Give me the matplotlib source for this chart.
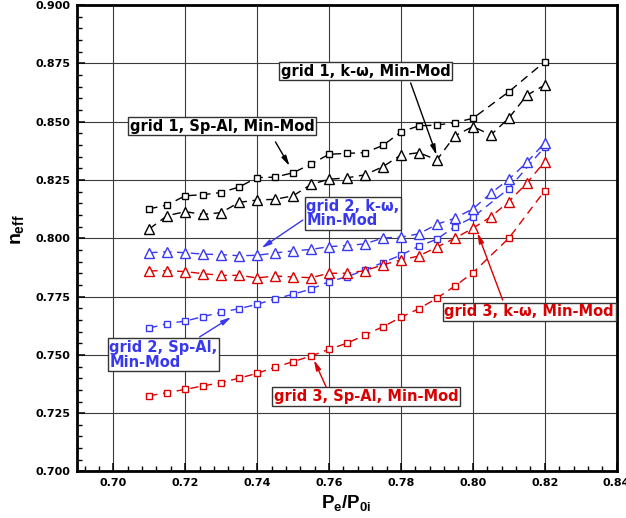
import matplotlib
matplotlib.use("Agg")
import matplotlib.pyplot as plt
from matplotlib.ticker import MultipleLocator, FormatStrFormatter

plt.rcParams['font.family'] = ['DejaVu Sans']
plt.rcParams['font.weight'] = 'bold'
plt.rcParams['mathtext.fontset'] = 'custom'
plt.rcParams['mathtext.rm'] = 'Liberation Sans:bold'
plt.rcParams['mathtext.it'] = 'Liberation Sans:bold'
plt.rcParams['mathtext.bf'] = 'Liberation Sans:bold'

# pressure ratio positions (squares skip 0.805 and 0.815)
x_sq = [0.710, 0.715, 0.720, 0.725, 0.730, 0.735, 0.740, 0.745, 0.750, 0.755,
        0.760, 0.765, 0.770, 0.775, 0.780, 0.785, 0.790, 0.795, 0.800,
        0.810, 0.820]
x_tri = [0.710, 0.715, 0.720, 0.725, 0.730, 0.735, 0.740, 0.745, 0.750, 0.755,
         0.760, 0.765, 0.770, 0.775, 0.780, 0.785, 0.790, 0.795, 0.800,
         0.805, 0.810, 0.815, 0.820]

g1_sa = [0.8126, 0.8143, 0.8182, 0.8187, 0.8196, 0.8220, 0.8260, 0.8262, 0.8281,
         0.8318, 0.8360, 0.8364, 0.8367, 0.8398, 0.8456, 0.8482, 0.8485, 0.8496,
         0.8514, 0.8628, 0.8757]
g1_kw = [0.8040, 0.8097, 0.8114, 0.8102, 0.8110, 0.8154, 0.8164, 0.8167, 0.8182,
         0.8231, 0.8253, 0.8259, 0.8272, 0.8307, 0.8357, 0.8367, 0.8336, 0.8439,
         0.8479, 0.8443, 0.8515, 0.8613, 0.8657]
g2_sa = [0.7615, 0.7634, 0.7645, 0.7664, 0.7683, 0.7698, 0.7717, 0.7740, 0.7760,
         0.7782, 0.7814, 0.7835, 0.7864, 0.7896, 0.7928, 0.7966, 0.7996, 0.8050,
         0.8090, 0.8213, 0.8392]
g2_kw = [0.7938, 0.7942, 0.7938, 0.7932, 0.7930, 0.7925, 0.7927, 0.7937, 0.7946,
         0.7952, 0.7964, 0.7969, 0.7976, 0.8001, 0.8005, 0.8019, 0.8060, 0.8086,
         0.8126, 0.8193, 0.8253, 0.8325, 0.8410]
g3_sa = [0.7325, 0.7338, 0.7352, 0.7367, 0.7381, 0.7400, 0.7421, 0.7447, 0.7471,
         0.7495, 0.7524, 0.7550, 0.7585, 0.7621, 0.7661, 0.7698, 0.7743, 0.7795,
         0.7852, 0.8000, 0.8204]
g3_kw = [0.7860, 0.7861, 0.7857, 0.7848, 0.7841, 0.7841, 0.7830, 0.7838, 0.7834,
         0.7831, 0.7850, 0.7850, 0.7861, 0.7886, 0.7907, 0.7924, 0.7962, 0.8000,
         0.8043, 0.8092, 0.8157, 0.8236, 0.8329]

BLACK = '#000000'
BLUE = '#3838f0'
RED = '#d80000'

fig = plt.figure(figsize=(6.26, 5.18), dpi=100)
ax = fig.add_axes([0.1236, 0.0898, 0.8615, 0.9005])

ls = (0, (6, 4))
series = [
    (x_sq, g1_sa, BLACK, 's'), (x_tri, g1_kw, BLACK, '^'),
    (x_sq, g2_sa, BLUE, 's'), (x_tri, g2_kw, BLUE, '^'),
    (x_sq, g3_sa, RED, 's'), (x_tri, g3_kw, RED, '^'),
]
for xs, ys, c, m in series:
    ax.plot(xs, ys, color=c, lw=1.0, linestyle=ls, marker=m,
            ms=5 if m == 's' else 6.5, mfc='white', mec=c, mew=1.0, zorder=3)

ax.set_xlim(0.69, 0.84)
ax.set_ylim(0.70, 0.90)
ax.xaxis.set_major_locator(MultipleLocator(0.02))
ax.xaxis.set_minor_locator(MultipleLocator(0.004))
ax.yaxis.set_major_locator(MultipleLocator(0.025))
ax.yaxis.set_minor_locator(MultipleLocator(0.005))
ax.xaxis.set_major_formatter(FormatStrFormatter('%.2f'))
ax.yaxis.set_major_formatter(FormatStrFormatter('%.3f'))
ax.grid(True, which='major', color='#3a3a3a', lw=0.8)
ax.tick_params(which='major', direction='in', length=6, width=1.1,
               labelsize=8, pad=5)
ax.tick_params(which='minor', direction='in', length=3.5, width=1.0)
for s in ax.spines.values():
    s.set_linewidth(2.0)
for lab in ax.get_xticklabels() + ax.get_yticklabels():
    lab.set_fontweight('bold')

fig.text(16 / 626, 1 - 230 / 518, r'$n_{eff}$', rotation=90,
         ha='center', va='center', fontsize=14)
fig.text(346 / 626, 1 - 508 / 518, r'$P_e/P_{0i}$',
         ha='center', va='baseline', fontsize=13.5)

box = dict(boxstyle='square,pad=0.12', fc='white', ec='#333333', lw=1.0)
labels = [
    ('grid 1, k-ω, Min-Mod', 0.7465, 0.8717, BLACK),
    ('grid 1, Sp-Al, Min-Mod', 0.7045, 0.8481, BLACK),
    ('grid 2, k-ω,\nMin-Mod', 0.7537, 0.8106, BLUE),
    ('grid 2, Sp-Al,\nMin-Mod', 0.6989, 0.7500, BLUE),
    ('grid 3, Sp-Al, Min-Mod', 0.7446, 0.7322, RED),
    ('grid 3, k-ω, Min-Mod', 0.7921, 0.7684, RED),
]
for t, x, y, c in labels:
    ax.text(x, y, t, color=c, fontsize=10.5, fontweight='bold',
            ha='left', va='center', linespacing=0.95, bbox=box, zorder=5)

arrows = [
    ((0.7827, 0.8666), (0.7899, 0.8357), BLACK),
    ((0.7451, 0.8413), (0.7490, 0.8310), BLACK),
    ((0.7527, 0.8078), (0.7412, 0.7958), BLUE),
    ((0.7240, 0.7577), (0.7328, 0.7662), BLUE),
    ((0.7592, 0.7362), (0.7558, 0.7478), RED),
    ((0.8083, 0.7735), (0.8013, 0.8023), RED),
]
for (x0, y0), (x1, y1), c in arrows:
    ax.annotate('', xy=(x1, y1), xytext=(x0, y0),
                arrowprops=dict(arrowstyle='-|>,head_length=0.6,head_width=0.15',
                                color=c, lw=1.0, shrinkA=0, shrinkB=0),
                zorder=4)

fig.savefig('out.png', dpi=100)
